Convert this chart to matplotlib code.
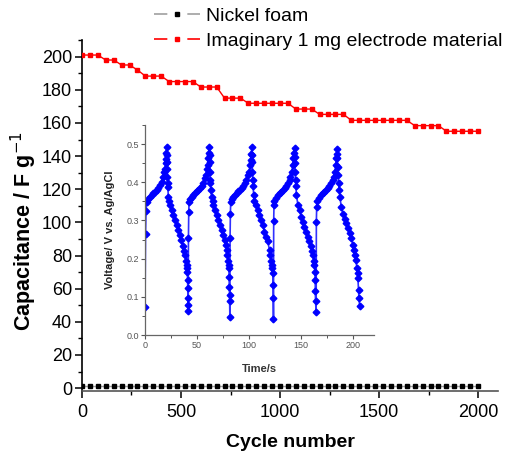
import matplotlib
matplotlib.use("Agg")
import matplotlib.pyplot as plt
from matplotlib.lines import Line2D
from matplotlib.ticker import MultipleLocator, FormatStrFormatter

plt.rcParams['font.family'] = ['Liberation Sans', 'DejaVu Sans']

# ---------------- main data ----------------
cycles = list(range(0, 2001, 40))
cap_material = [201, 201, 201, 198, 198, 195, 195, 192, 188.3, 188.3, 188.3,
                185, 185, 185, 185, 181.7, 181.7, 181.7, 175, 175, 175,
                171.9, 171.9, 171.9, 171.9, 171.9, 171.9, 168.4, 168.4, 168.4,
                165.2, 165.2, 165.2, 165.2, 161.6, 161.6, 161.6, 161.6, 161.6,
                161.6, 161.6, 161.6, 158.4, 158.4, 158.4, 158.4, 155, 155, 155,
                155, 155]
cap_nickel = [1.5] * len(cycles)

# ---------------- inset data (time / s, voltage / V) ----------------
t_c1 = [0, 0.5, 1.0, 1.5, 3.2, 4.8, 6.4, 8.0, 9.6, 11.2, 12.8, 14.4, 16.0, 17.6,
        18.5, 19.2, 19.8, 20.1, 20.4, 20.8, 21.1, 21.2, 21.4, 21.5, 21.7, 21.9,
        22.4, 23.3, 24.0, 25.6, 27.2, 28.8, 30.4, 31.9, 33.5, 34.8, 36.1, 37.4,
        38.3, 39.3, 39.9, 40.3, 40.6, 40.9, 41.0, 41.2, 41.3, 41.5]
v_c1 = [0.073, 0.265, 0.326, 0.348, 0.355, 0.362, 0.366, 0.371, 0.375, 0.380,
        0.386, 0.393, 0.402, 0.415, 0.428, 0.436, 0.450, 0.462, 0.478, 0.493,
        0.471, 0.454, 0.436, 0.415, 0.397, 0.388, 0.362, 0.350, 0.341, 0.327,
        0.314, 0.301, 0.288, 0.275, 0.262, 0.249, 0.232, 0.219, 0.210, 0.193,
        0.184, 0.175, 0.166, 0.145, 0.123, 0.097, 0.079, 0.064]

t_c2 = [41.7, 42.0, 42.3, 43.1, 44.7, 46.3, 47.9, 49.5, 51.1, 52.7, 54.3, 55.9,
        57.5, 58.5, 59.4, 60.1, 60.7, 61.3, 61.7, 62.0, 62.1, 62.3, 62.6, 62.9,
        63.2, 63.9, 64.9, 65.5, 67.1, 68.7, 70.3, 71.9, 73.5, 75.1, 76.4, 77.6,
        78.6, 79.2, 79.9, 80.2, 80.5, 80.8, 80.9, 81.2, 81.3, 81.5]
v_c2 = [0.253, 0.321, 0.348, 0.355, 0.362, 0.367, 0.371, 0.376, 0.380, 0.384,
        0.389, 0.397, 0.410, 0.419, 0.436, 0.445, 0.463, 0.478, 0.493, 0.471,
        0.454, 0.428, 0.406, 0.397, 0.380, 0.362, 0.350, 0.341, 0.327, 0.314,
        0.301, 0.288, 0.275, 0.262, 0.249, 0.236, 0.223, 0.210, 0.193, 0.184,
        0.175, 0.153, 0.127, 0.105, 0.088, 0.046]

t_c3 = [81.7, 82.0, 82.3, 83.1, 84.7, 86.3, 87.9, 89.5, 91.1, 92.7, 94.2, 95.8,
        97.4, 99.0, 100.0, 101.0, 101.6, 102.2, 102.6, 102.9, 103.0, 103.2,
        103.5, 103.8, 104.4, 105.1, 106.7, 108.3, 109.9, 111.5, 113.1, 114.7,
        116.3, 117.9, 119.6, 120.5, 121.2, 121.8, 122.4, 122.8, 123.1, 123.2,
        123.4]
v_c3 = [0.253, 0.316, 0.348, 0.355, 0.362, 0.367, 0.371, 0.376, 0.380, 0.384,
        0.389, 0.397, 0.406, 0.419, 0.428, 0.445, 0.458, 0.475, 0.493, 0.471,
        0.454, 0.428, 0.406, 0.389, 0.367, 0.350, 0.341, 0.327, 0.314, 0.301,
        0.288, 0.271, 0.258, 0.245, 0.223, 0.210, 0.193, 0.184, 0.175, 0.162,
        0.132, 0.097, 0.042]

t_c4 = [123.6, 123.9, 124.2, 126.0, 127.6, 129.2, 130.8, 132.4, 134.0, 135.6,
        137.2, 138.8, 139.7, 141.0, 142.0, 142.6, 143.3, 143.6, 143.9, 144.0,
        144.2, 144.6, 144.9, 145.5, 146.8, 148.4, 150.0, 151.6, 153.2, 154.8,
        156.4, 158.0, 159.6, 160.6, 161.2, 162.2, 162.8, 163.1, 163.5, 163.6,
        163.8, 164.4]
v_c4 = [0.299, 0.341, 0.351, 0.358, 0.367, 0.371, 0.375, 0.380, 0.384, 0.389,
        0.397, 0.406, 0.415, 0.428, 0.445, 0.463, 0.478, 0.489, 0.467, 0.450,
        0.428, 0.406, 0.389, 0.367, 0.341, 0.327, 0.310, 0.297, 0.284, 0.271,
        0.258, 0.245, 0.232, 0.219, 0.210, 0.193, 0.184, 0.166, 0.145, 0.114,
        0.088, 0.059]

t_c5 = [164.6, 164.9, 165.2, 167.6, 169.2, 170.8, 172.4, 174.0, 175.6, 177.2,
        178.8, 180.4, 181.3, 182.3, 183.3, 183.9, 184.2, 184.6, 184.9, 185.0,
        185.3, 185.9, 186.5, 187.2, 188.5, 190.1, 191.7, 193.3, 194.9, 196.5,
        198.1, 199.7, 200.6, 201.6, 202.6, 203.5, 204.2, 204.5, 205.1, 205.5,
        206.1]
v_c5 = [0.297, 0.336, 0.351, 0.358, 0.367, 0.371, 0.375, 0.380, 0.384, 0.389,
        0.397, 0.406, 0.415, 0.428, 0.445, 0.463, 0.475, 0.487, 0.463, 0.441,
        0.419, 0.397, 0.380, 0.362, 0.336, 0.318, 0.305, 0.293, 0.279, 0.266,
        0.253, 0.236, 0.223, 0.210, 0.197, 0.175, 0.162, 0.149, 0.118, 0.097,
        0.077]

time_s = t_c1 + t_c2 + t_c3 + t_c4 + t_c5
voltage = v_c1 + v_c2 + v_c3 + v_c4 + v_c5

legend_labels = ["Nickel foam", "Imaginary 1 mg electrode material"]

# ---------------- figure ----------------
fig = plt.figure(figsize=(5.06, 4.51), dpi=100)
ax = fig.add_axes([0.162, 0.134, 0.822, 0.777])

ax.plot(cycles, cap_nickel, color='#a0a0a0', lw=1.0, marker='s', ms=3,
        mfc='black', mec='black', zorder=3)
ax.plot(cycles, cap_material, color='red', lw=1.0, marker='s', ms=3.2,
        mfc='red', mec='red', zorder=3)

ax.set_xlim(0, 2100)
ax.set_ylim(-1.5, 210)
ax.xaxis.set_major_locator(MultipleLocator(500))
ax.xaxis.set_minor_locator(MultipleLocator(250))
ax.yaxis.set_major_locator(MultipleLocator(20))
ax.yaxis.set_minor_locator(MultipleLocator(10))
for s in ['top', 'right']:
    ax.spines[s].set_visible(False)
for s in ['left', 'bottom']:
    ax.spines[s].set_linewidth(1.2)
ax.spines['bottom'].set_color('#555555')
ax.tick_params(which='major', direction='out', length=5, width=1.1,
               labelsize=13, pad=2)
ax.tick_params(axis='x', which='major', pad=5)
ax.tick_params(which='minor', direction='out', length=3, width=1.0)
ax.set_xlabel('Cycle number', fontsize=14, fontweight='bold', labelpad=9)
ax.set_ylabel(r'Capacitance / F g$^{-1}$', fontsize=15.5, fontweight='bold')
ax.yaxis.set_label_coords(-0.104, 0.455)

handles = [
    Line2D([], [], color='#a0a0a0', lw=1.2, dashes=(8, 12), marker='s', ms=3,
           mfc='black', mec='black'),
    Line2D([], [], color='red', lw=1.2, dashes=(8, 12), marker='s', ms=3,
           mfc='red', mec='red'),
]
fig.legend(handles, legend_labels, loc='upper right',
           bbox_to_anchor=(1.016, 1.009), frameon=False, fontsize=14,
           handlelength=2.4, handletextpad=0.3, labelspacing=0.35,
           borderaxespad=0.2)

# ---------------- inset ----------------
axi = fig.add_axes([0.2866, 0.2572, 0.4526, 0.4656])
axi.plot(time_s, voltage, color='#3030ff', lw=1.2, marker='D', ms=3.4,
         mfc='#0000ff', mec='#0000ff')
axi.set_xlim(0, 220)
axi.set_ylim(0, 0.55)
axi.xaxis.set_major_locator(MultipleLocator(50))
axi.xaxis.set_minor_locator(MultipleLocator(25))
axi.yaxis.set_major_locator(MultipleLocator(0.1))
axi.yaxis.set_minor_locator(MultipleLocator(0.05))
axi.yaxis.set_major_formatter(FormatStrFormatter('%.1f'))
axi.patch.set_alpha(0)
for s in ['top', 'right']:
    axi.spines[s].set_visible(False)
for s in ['left', 'bottom']:
    axi.spines[s].set_color('#666666')
    axi.spines[s].set_linewidth(0.9)
axi.tick_params(which='major', direction='out', length=3, width=0.8,
                labelsize=6.5, colors='#555555', pad=1.5)
axi.tick_params(which='minor', direction='out', length=2, width=0.7,
                colors='#555555')
axi.set_xlabel('Time/s', fontsize=8, fontweight='bold', color='#333333',
               labelpad=10)
axi.set_ylabel('Voltage/ V vs. Ag/AgCl', fontsize=8, fontweight='bold',
               color='#222222', labelpad=8)

fig.savefig('out.png', dpi=100)
